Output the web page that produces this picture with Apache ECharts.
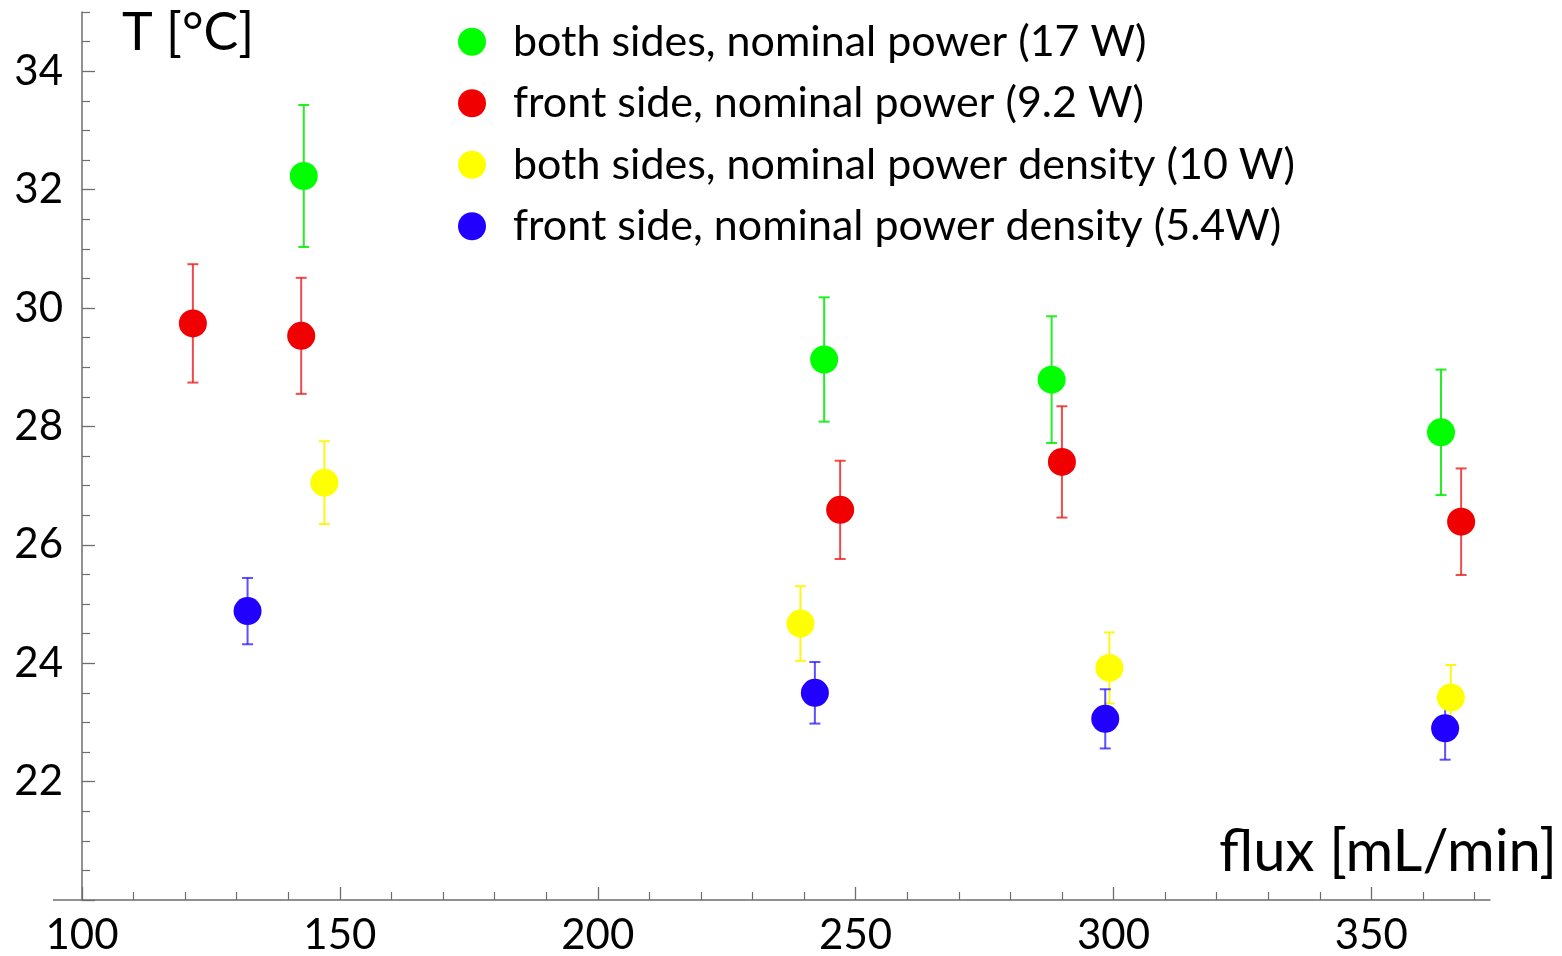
<!DOCTYPE html>
<html>
<head>
<meta charset="utf-8">
<script src="https://cdn.jsdelivr.net/npm/echarts@6/dist/echarts.min.js"></script>
<style>
  html, body { margin: 0; padding: 0; background: #fff; }
  #chart { width: 1562px; height: 956px; }
</style>
</head>
<body>
<div id="chart"></div>
<script>
// legend names
const seriesNames = [
  'both sides, nominal power (17 W)',
  'front side, nominal power (9.2 W)',
  'both sides, nominal power density (10 W)',
  'front side, nominal power density (5.4W)'
]

// flux [mL/min], T [°C], error (±)
const greenX = [143.0, 243.9, 288.0, 363.5]
const greenY = [32.23, 29.13, 28.79, 27.90]
const greenErr = [1.2, 1.05, 1.07, 1.06]

const redX = [121.5, 142.5, 247.0, 290.0, 367.4]
const redY = [29.74, 29.53, 26.59, 27.40, 26.39]
const redErr = [1.0, 0.98, 0.83, 0.94, 0.9]

const yellowX = [147.0, 239.3, 299.2, 365.4]
const yellowY = [27.05, 24.67, 23.92, 23.42]
const yellowErr = [0.7, 0.63, 0.6, 0.55]

const blueX = [132.1, 242.1, 298.4, 364.3]
const blueY = [24.88, 23.50, 23.06, 22.90]
const blueErr = [0.56, 0.52, 0.5, 0.53]

const xTickLabels = [100, 150, 200, 250, 300, 350]
const yTickLabels = [22, 24, 26, 28, 30, 32, 34]

const colors = ['#00ff00', '#f00000', '#ffff00', '#2200ff']
const barColors = ['rgba(0,235,0,0.85)', 'rgba(235,30,30,0.8)', 'rgba(255,245,0,0.9)', 'rgba(40,20,255,0.75)']

// 主刻度 / 次刻度
const xMajor = xTickLabels
const xMinor = []
for (let v = 100; v <= 370; v += 10) { if (v % 50 !== 0) xMinor.push(v) }
const yMajor = [20].concat(yTickLabels)
const yMinor = []
for (let v = 20; v <= 35; v += 0.5) { if (v % 2 !== 0) yMinor.push(v) }

const fontFamily = 'Lato'
const axisColor = '#6e6e6e'

const groups = [
  { x: greenX, y: greenY, e: greenErr },
  { x: redX, y: redY, e: redErr },
  { x: yellowX, y: yellowY, e: yellowErr },
  { x: blueX, y: blueY, e: blueErr }
]

function errorBar (color) {
  return function (params, api) {
    const x = api.value(0)
    const y = api.value(1)
    const e = api.value(2)
    const top = api.coord([x, y + e])
    const bot = api.coord([x, y - e])
    const w = 5.5
    const style = { stroke: color, lineWidth: 2 }
    return {
      type: 'group',
      children: [
        { type: 'line', shape: { x1: top[0], y1: top[1], x2: bot[0], y2: bot[1] }, style },
        { type: 'line', shape: { x1: top[0] - w, y1: top[1], x2: top[0] + w, y2: top[1] }, style },
        { type: 'line', shape: { x1: bot[0] - w, y1: bot[1], x2: bot[0] + w, y2: bot[1] }, style }
      ]
    }
  }
}

const series = []
groups.forEach((g, i) => {
  const data = g.x.map((x, k) => [x, g.y[k], g.e[k]])
  series.push({
    type: 'custom',
    name: 'err' + i,
    renderItem: errorBar(barColors[i]),
    data: data,
    z: 1,
    silent: true
  })
})
groups.forEach((g, i) => {
  series.push({
    type: 'scatter',
    name: seriesNames[i],
    data: g.x.map((x, k) => [x, g.y[k]]),
    symbol: 'circle',
    symbolSize: 28,
    itemStyle: { color: colors[i], opacity: 1 },
    z: 2
  })
})

const chart = echarts.init(document.getElementById('chart'))

const option = {
  animation: false,
  backgroundColor: '#fff',
  textStyle: { fontFamily },
  grid: { left: 82, top: 12, right: 72, bottom: 54, containLabel: false },
  legend: {
    data: seriesNames,
    orient: 'vertical',
    left: 458,
    top: 11,
    padding: 0,
    itemGap: 0,
    itemWidth: 72,
    itemHeight: 28,
    icon: 'circle',
    selectedMode: false,
    textStyle: { fontFamily, fontSize: 43, color: '#000', lineHeight: 61.5 }
  },
  xAxis: [
    {
      type: 'value',
      min: 100,
      max: 373,
      position: 'bottom',
      axisLine: { show: true, lineStyle: { color: axisColor, width: 1.5 } },
      axisTick: { show: true, inside: true, length: 13, customValues: xMajor, lineStyle: { color: axisColor, width: 1.3 } },
      axisLabel: { customValues: xTickLabels, fontFamily, fontSize: 42, color: '#000', margin: 14 },
      splitLine: { show: false }
    },
    {
      type: 'value',
      min: 100,
      max: 373,
      position: 'bottom',
      axisLine: { show: false },
      axisTick: { show: true, inside: true, length: 8, customValues: xMinor, lineStyle: { color: axisColor, width: 1.2 } },
      axisLabel: { show: false },
      splitLine: { show: false }
    }
  ],
  yAxis: [
    {
      type: 'value',
      min: 20,
      max: 35,
      position: 'left',
      axisLine: { show: true, lineStyle: { color: axisColor, width: 1.5 } },
      axisTick: { show: true, inside: true, length: 13, customValues: yMajor, lineStyle: { color: axisColor, width: 1.3 } },
      axisLabel: { customValues: yTickLabels, fontFamily, fontSize: 42, color: '#000', margin: 19 },
      splitLine: { show: false }
    },
    {
      type: 'value',
      min: 20,
      max: 35,
      position: 'left',
      axisLine: { show: false },
      axisTick: { show: true, inside: true, length: 8, customValues: yMinor, lineStyle: { color: axisColor, width: 1.2 } },
      axisLabel: { show: false },
      splitLine: { show: false }
    }
  ],
  series: series
}

chart.setOption(option)

// x轴线向左延伸 + 轴标题
const origin = chart.convertToPixel({ xAxisIndex: 0, yAxisIndex: 0 }, [100, 20])
chart.setOption({
  graphic: [
    {
      type: 'line',
      shape: { x1: origin[0] - 29, y1: origin[1], x2: origin[0], y2: origin[1] },
      style: { stroke: axisColor, lineWidth: 1.5 },
      silent: true
    },
    {
      type: 'text',
      x: 122,
      y: 33,
      style: { text: 'T [°C]', font: '52px Lato', fill: '#000', textAlign: 'left', textVerticalAlign: 'middle' }
    },
    {
      type: 'text',
      x: 1557,
      y: 852,
      style: { text: 'flux [mL/min]', font: '58px Lato', fill: '#000', textAlign: 'right', textVerticalAlign: 'middle' }
    }
  ]
})
</script>
</body>
</html>
